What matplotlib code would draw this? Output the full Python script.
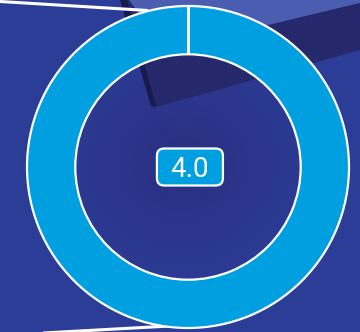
import matplotlib
matplotlib.use("Agg")
import matplotlib.pyplot as plt
import numpy as np
from matplotlib.patches import Polygon, FancyBboxPatch

# ---- data ----
labels = ["Score"]
values = [4.0]
value_label = "4.0"

RING = "#009fdf"
W, H = 360, 332
fig = plt.figure(figsize=(W / 100, H / 100), dpi=100)

# ---- background (decorative, pixel coordinates) ----
bg = fig.add_axes([0, 0, 1, 1])
bg.set_xlim(0, W)
bg.set_ylim(H, 0)
bg.axis("off")
gy, gx = np.mgrid[0:1:40j, 0:1:40j]
c1 = np.array([0x2c, 0x3d, 0x97]) / 255
c2 = np.array([0x2a, 0x2e, 0x80]) / 255
c3 = np.array([0x2e, 0x40, 0x9a]) / 255
d = np.sqrt((gx - 0.52) ** 2 + (gy - 0.5) ** 2)
t = np.clip(1 - d / 0.45, 0, 1)[..., None]
img = c1 * (1 - t) + c2 * t
img = img * (1 - 0.3 * gx[..., None] * gy[..., None]) + c3 * 0.3 * gx[..., None] * gy[..., None]
bg.imshow(img, extent=[0, W, H, 0], aspect="auto", zorder=0, interpolation="bicubic")

bg.add_patch(Polygon([[129, 0], [360, 0], [360, 3], [165, 50]], closed=True,
                     facecolor="#4a5db0", edgecolor="none", zorder=1))
bg.add_patch(Polygon([[121, 0], [129, 0], [165, 50], [360, 3], [360, 50], [153, 108]],
                     closed=True, facecolor="#25286a", edgecolor="none", zorder=1))
bg.add_patch(Polygon([[120, 0], [127, 0], [156, 106], [151, 106]], closed=True,
                     facecolor="#171a4c", edgecolor="none", zorder=1))
bg.plot([0, 148], [1.5, 10.5], color="white", lw=2.2, solid_capstyle="butt", zorder=2)
bg.plot([43, 170], [333, 326], color="white", lw=2.2, solid_capstyle="butt", zorder=2)

# ---- donut ----
cx, cy, r = 188, 167, 161
width = 0.3
ax = fig.add_axes([(cx - r) / W, (H - cy - r) / H, 2 * r / W, 2 * r / H])
ax.pie(values, labels=None, colors=[RING], startangle=90, counterclock=False,
       radius=1.0, wedgeprops=dict(width=width, edgecolor="white", linewidth=1.6))
# slice boundary at the start angle (12 o'clock)
ax.plot([0, 0], [1 - width, 1], color="white", lw=2.0, solid_capstyle="butt", zorder=3)
ax.set_xlim(-1, 1)
ax.set_ylim(-1, 1)
ax.set_aspect("equal")
ax.axis("off")

bw, bh = 66 / r, 37 / r
ax.add_patch(FancyBboxPatch((0.012 - bw / 2, -bh / 2), bw, bh,
                            boxstyle="round,pad=0,rounding_size=0.045",
                            facecolor=RING, edgecolor="white", linewidth=1.6, zorder=3))
ax.text(0.012, -0.062, value_label, ha="center", va="baseline", color="white",
        fontsize=20, family="Roboto", fontweight="normal", zorder=4)

fig.savefig("out.png", dpi=100)
